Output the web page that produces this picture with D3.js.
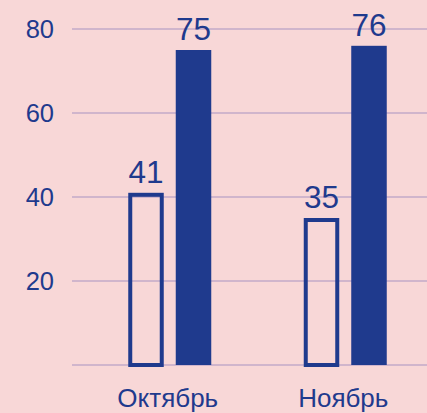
<!DOCTYPE html>
<html><head><meta charset="utf-8">
<script src="https://cdn.jsdelivr.net/npm/d3@7"></script>
<style>html,body{margin:0;padding:0;background:#f8d7d7;}svg{display:block;}</style>
</head><body>
<script>
const categories = ["Октябрь", "Ноябрь"];
const seriesKeys = ["outline", "filled"];
const outlineValues = [41, 35];
const filledValues = [75, 76];
const yTicks = [0, 20, 40, 60, 80];
const yTickLabels = ["", "20", "40", "60", "80"];

const W = 427, H = 413;
const color = "#1f3a8d";
const svg = d3.select("body").append("svg").attr("width", W).attr("height", H);
svg.append("rect").attr("width", W).attr("height", H).attr("fill", "#f8d7d7");

const y = d3.scaleLinear().domain([0, 80]).range([365, 29]);
const x0 = d3.scaleBand().domain(categories).range([82, 433]).padding(0);
const x1 = d3.scaleBand().domain(seriesKeys).range([0, 83]).paddingInner(0.2526).paddingOuter(0);

// gridlines
svg.append("g").selectAll("line").data(yTicks).join("line")
  .attr("x1", 72).attr("x2", W)
  .attr("y1", d => y(d)).attr("y2", d => y(d))
  .attr("stroke", "#c3aac8").attr("stroke-width", 1.5);

// y axis labels
svg.append("g").selectAll("text").data(yTicks).join("text")
  .attr("x", 54).attr("y", d => y(d)).attr("dy", "0.36em")
  .attr("text-anchor", "end")
  .attr("font-family", "Liberation Sans, Arial, sans-serif")
  .attr("font-size", 25.5).attr("fill", color)
  .text((d, i) => yTickLabels[i]);

const rows = categories.map((c, i) => ({cat: c, outline: outlineValues[i], filled: filledValues[i]}));
const groups = svg.append("g").selectAll("g").data(rows).join("g")
  .attr("transform", d => `translate(${x0(d.cat) + x0.bandwidth() / 2 - 41.5},0)`);

const sw = 4;
groups.append("rect")
  .attr("x", x1("outline") + sw / 2)
  .attr("width", x1.bandwidth() - sw)
  .attr("y", d => y(d.outline) + sw / 2)
  .attr("height", d => y(0) - y(d.outline) - sw / 2)
  .attr("fill", "none").attr("stroke", color).attr("stroke-width", sw);

groups.append("rect")
  .attr("x", x1("filled"))
  .attr("width", x1.bandwidth())
  .attr("y", d => y(d.filled))
  .attr("height", d => y(0) - y(d.filled))
  .attr("fill", color);

// value labels
groups.append("text")
  .attr("x", x1("outline") + x1.bandwidth() / 2)
  .attr("y", d => y(d.outline) - 10)
  .attr("text-anchor", "middle")
  .attr("font-family", "Liberation Sans, Arial, sans-serif")
  .attr("font-size", 31.5).attr("fill", color)
  .text(d => d.outline);
groups.append("text")
  .attr("x", x1("filled") + x1.bandwidth() / 2)
  .attr("y", d => y(d.filled) - 10)
  .attr("text-anchor", "middle")
  .attr("font-family", "Liberation Sans, Arial, sans-serif")
  .attr("font-size", 31.5).attr("fill", color)
  .text(d => d.filled);

// x labels
svg.append("g").selectAll("text").data(categories).join("text")
  .attr("x", d => x0(d) + x0.bandwidth() / 2 - 2)
  .attr("y", 407)
  .attr("text-anchor", "middle")
  .attr("font-family", "Liberation Sans, Arial, sans-serif")
  .attr("font-size", 26).attr("fill", color)
  .text(d => d);
</script>
</body></html>
